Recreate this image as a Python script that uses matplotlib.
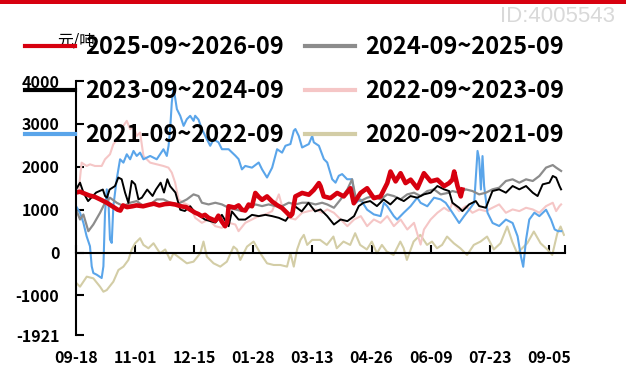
import matplotlib
matplotlib.use("Agg")
import matplotlib.pyplot as plt
from matplotlib.lines import Line2D
from matplotlib.patches import Rectangle

plt.rcParams['font.family'] = ['Noto Sans CJK SC', 'DejaVu Sans']

# days counted from 09-18 of each season
xtick_days = [0, 44, 88, 132, 176, 220, 264, 308, 352]
xtick_labels = ['09-18', '11-01', '12-15', '01-28', '03-13', '04-26', '06-09', '07-23', '09-05']
ytick_vals = [4000, 3000, 2000, 1000, 0, -1000, -1921]

s2025_days = [0, 3, 6, 10, 14, 18, 23, 28, 31, 33, 35, 38, 42, 45, 50, 55, 58, 62, 66, 70, 74, 78, 82, 85,
              88.7, 91, 93.7, 96, 98.7, 101, 103.7, 106, 108.6, 111, 112.5, 113.6, 118, 121, 123.5, 126,
              128.5, 131, 133.5, 136, 138.5, 142.2, 146, 150, 153.4, 156, 159.6, 161, 163.3, 168.3, 173.3,
              177, 180.8, 182, 184.4, 189.4, 194.4, 199.3, 204.3, 206.8, 211.8, 216.7, 221.7, 226.7, 231.7,
              234.1, 237.9, 241.6, 245.3, 249.1, 254.1, 259, 264, 269, 274, 277.7, 280.2, 281.5, 284, 286.4, 287.6]
s2025_vals = [1400, 1420, 1380, 1330, 1300, 1240, 1160, 1060, 1000, 980, 1100, 1060, 1080, 1100, 1080, 1120,
              1140, 1100, 1130, 1140, 1120, 1080, 1060, 1000, 930, 900, 850, 880, 810, 780, 740, 860, 720,
              615, 700, 1080, 1050, 1100, 1000, 980, 1120, 1080, 1390, 1300, 1230, 1310, 1190, 1100, 1040,
              960, 850, 900, 1310, 1390, 1350, 1460, 1620, 1550, 1310, 1270, 1390, 1310, 1500, 1150, 1390,
              1500, 1270, 1310, 1620, 1890, 1660, 1850, 1620, 1700, 1500, 1850, 1660, 1700, 1550, 1620, 1700,
              1890, 1550, 1310, 1470]

s2024_days = [0, 3, 5.5, 9.2, 12.9, 17.9, 21.6, 25.3, 30.3, 35.3, 40.3, 45.2, 50.2, 55.2, 60.1, 65.1, 70.1,
              75.1, 82.5, 87.5, 91.2, 93.7, 98.7, 103.7, 108.6, 113.6, 118.6, 123.5, 128.5, 133.5, 138.5,
              143.4, 148.4, 153.4, 158.4, 163.3, 168.3, 173.3, 178.3, 183.2, 187, 192, 197, 202, 205.5, 208,
              211.8, 216.7, 221.7, 226.7, 231.7, 236.6, 241.6, 246.6, 251.6, 256.5, 261.5, 266.5, 271.5,
              277.7, 280.2, 285.2, 290.1, 295.1, 300.1, 305.1, 310, 315, 320, 325, 330, 335, 340, 344.9,
              349.9, 354.9, 357.4, 361.1]
s2024_vals = [1006, 772, 889, 499, 655, 928, 1162, 1279, 1162, 1084, 1162, 1201, 1084, 1123, 1240, 1240, 1162,
              1123, 1240, 1357, 1318, 1162, 1123, 1162, 1123, 1045, 1006, 967, 1045, 1123, 1084, 1123, 1084,
              1084, 1162, 1123, 1162, 1162, 1123, 1162, 1123, 1045, 1240, 1474, 1708, 1318, 1201, 1279, 1318,
              1240, 1357, 1318, 1240, 1357, 1396, 1318, 1435, 1474, 1357, 1396, 1435, 1396, 1474, 1435, 1357,
              1396, 1474, 1513, 1669, 1708, 1630, 1708, 1669, 1786, 1981, 2040, 1981, 1903]

s2023_days = [0, 3, 5.5, 9, 15, 20, 21.6, 23, 25, 29, 31.5, 34, 36.5, 39, 41.5, 44, 46.5, 49, 53, 57, 59.5,
              63, 65.5, 68, 70, 74, 77.6, 81, 85, 88.7, 96, 103.7, 108.6, 113.6, 116, 121, 126, 131, 136,
              141, 146, 151, 156, 161, 163, 168, 173, 178, 182, 187, 192, 197, 202, 207, 210.5, 214, 219,
              224, 229, 234, 239, 244, 249, 254, 259, 264, 269, 274, 277.7, 280.2, 285.2, 287.6, 292.6,
              297.6, 300.1, 305.1, 310, 315, 320, 325, 330, 335, 340, 343.6, 347.4, 352.4, 354.9, 357.4,
              359.9, 361.1]
s2023_vals = [1470, 1630, 1400, 1200, 1400, 1470, 1320, 1280, 1470, 1550, 1750, 1710, 1400, 1160, 1670, 1590,
              1240, 1280, 1470, 1320, 1470, 1630, 1400, 1710, 1550, 1400, 1000, 970, 1080, 930, 770, 700, 880,
              615, 960, 770, 770, 880, 850, 880, 850, 810, 740, 960, 1080, 960, 1160, 960, 1006, 850, 655,
              772, 733, 850, 1084, 1162, 1201, 1084, 1240, 1123, 1279, 1201, 1318, 1279, 1357, 1396, 1552,
              1474, 1435, 1162, 1045, 967, 1123, 1201, 1084, 1045, 1435, 1474, 1396, 1552, 1474, 1552, 1396,
              1318, 1591, 1630, 1786, 1747, 1552, 1474]

s2022_days = [0, 2, 4.2, 7.9, 10.4, 14.1, 19.1, 21.6, 25.3, 27.8, 32.8, 35.3, 37.8, 40.3, 42.8, 45.2, 47.7,
              50.2, 55.2, 60.1, 65.1, 68.8, 71.3, 73.8, 76.3, 80.1, 85, 88.7, 93.7, 98.7, 103.7, 108.6,
              113.6, 118.6, 121, 126, 131, 136, 141, 146, 151, 153.4, 158.4, 163.3, 168.3, 173.3, 178.3,
              183.2, 187, 192, 197, 202, 207, 212, 216.7, 221.7, 226.7, 231.7, 236.6, 241.6, 246.6, 251.6,
              256.5, 259, 264, 269, 274, 277.7, 280.2, 285.2, 290.1, 295.1, 300.1, 305.1, 310, 315, 320,
              325, 330, 335, 340, 344.9, 349.9, 354.9, 357.4, 359.9, 361.1]
s2022_vals = [1400, 1450, 2097, 2019, 2058, 2019, 2019, 2175, 2292, 2526, 2721, 2955, 3071, 2877, 2955, 2721,
              2799, 2253, 2097, 2058, 2019, 1980, 1864, 1630, 1240, 1162, 1084, 811, 694, 772, 616, 577, 694,
              655, 499, 694, 772, 850, 889, 967, 1357, 1084, 811, 772, 928, 967, 1006, 928, 1006, 928, 772,
              616, 772, 850, 616, 772, 694, 850, 616, 772, 538, 694, 187, 538, 772, 928, 1045, 967, 1162, 967,
              1084, 928, 1006, 967, 1045, 1123, 928, 1006, 967, 1045, 1006, 928, 1084, 1162, 967, 1084, 1123]

s2021_days = [0, 3, 5.5, 7.9, 10.4, 11.7, 12.9, 15.4, 19.1, 20.4, 21.6, 22.9, 24.1, 25.3, 26.6, 27.8, 30.3,
              32.8, 35.3, 37.8, 40.3, 42.8, 45.2, 47.7, 50.2, 55.2, 60.1, 62.6, 65.1, 67.6, 68.9, 70.1,
              71.3, 72.6, 75.1, 77.6, 80.1, 82.5, 85, 87.5, 88.7, 91.2, 93.7, 96.2, 99.9, 102.4, 106.1,
              108.6, 113.6, 118.6, 121, 123.5, 126, 131, 136, 138.5, 142.2, 146, 149.7, 153.4, 155.9,
              159.6, 162.1, 163.3, 165.8, 168.3, 173.3, 175.8, 177, 180.8, 184.5, 187, 190.7, 193.2, 195.6,
              198.1, 201.8, 205.5, 208, 211.8, 216.7, 221.7, 226.7, 229.2, 231.7, 236.6, 239, 244, 249, 254,
              256.5, 261.5, 266.5, 271.5, 275.2, 280.2, 285.2, 288.9, 292.6, 296.4, 298.9, 300.1, 301.4,
              302.6, 303.8, 306.3, 310.1, 315, 320, 325, 328.7, 331.2, 332.9, 335, 337.4, 341.2, 344.9,
              349.9, 353.6, 356.3, 358.8, 361.3]
s2021_vals = [1084, 928, 694, 382, 148, -320, -476, -515, -593, -320, 928, 1474, 1240, 304, 226, 1084, 1708,
              2175, 2097, 2292, 2175, 2370, 2253, 2330, 2175, 2253, 2175, 2292, 2409, 2253, 2487, 2877, 3500,
              3850, 3344, 3188, 2954, 3110, 3188, 3071, 3190, 3100, 2880, 2720, 2490, 2640, 2570, 2410, 2410,
              2260, 2180, 1940, 2020, 1980, 2100, 1940, 1750, 1980, 2410, 2330, 2490, 2530, 2840, 2880, 2720,
              2450, 2530, 2720, 2570, 2490, 2180, 2100, 1710, 1630, 1790, 1830, 1710, 1710, 1160, 1240, 1000,
              890, 850, 1160, 1080, 850, 770, 930, 1080, 1280, 1160, 1080, 1280, 1240, 1160, 930, 690, 850,
              1000, 1160, 2370, 2180, 1470, 2250, 1550, 930, 690, 620, 770, 690, 380, -90, -330, 300, 770,
              930, 850, 1000, 770, 540, 500, 500]

s2020_days = [0.5, 3, 8, 12.9, 17.9, 20.4, 22.9, 27.8, 31.6, 35.3, 39, 41.5, 44, 47.7, 50.2, 53.9, 57.7,
              60.1, 62.6, 66.4, 70.1, 72.6, 77.6, 82.5, 87.5, 92.5, 94.9, 97.4, 102.4, 107.4, 112.3, 117.3,
              119.8, 122.3, 127.3, 132.2, 137.2, 142.2, 147.2, 152.1, 157.1, 159.6, 162.1, 164.6, 167.1,
              169.6, 172.1, 175.8, 181.7, 186.7, 191.6, 194.1, 199.1, 204.1, 207.8, 211.5, 216.5, 220.2,
              224, 227.7, 231.4, 236.4, 241.4, 243.9, 246.3, 251.3, 256.3, 261.3, 265, 268.7, 272.5, 276.2,
              281.2, 286.1, 291.1, 296.1, 301.1, 306, 311, 316, 321, 324.7, 328.4, 332.1, 335.9, 340.8,
              345.8, 350.8, 354.5, 358.3, 360.7, 363.2]
s2020_vals = [-717, -795, -561, -600, -795, -912, -873, -678, -405, -327, -171, 73, 218, 335, 179, 101, 218,
              101, -16, 73, -171, -16, -133, -250, -211, -16, 257, -94, -250, -327, -211, 140, 73, -171, 140,
              257, -16, -250, -289, -289, -327, -16, -327, 73, 296, 413, 179, 296, 296, 179, 374, 101, 257,
              179, 452, 179, 73, 257, -16, 179, 23, -55, 257, 101, -171, 257, 413, 179, 257, 101, 179, 374,
              218, 101, -55, 179, 257, 374, 73, 218, 608, 257, -16, 101, 218, 491, 218, 73, -55, 452, 608, 413]

fig = plt.figure(figsize=(6.26, 3.74), dpi=100)
ax = fig.add_axes([76 / 626, 1 - 335 / 374, 489 / 626, 254 / 374])

ax.plot(s2020_days, s2020_vals, color='#d3cda6', lw=1.5)
ax.plot(s2022_days, s2022_vals, color='#f5c6c6', lw=1.5)
ax.plot(s2021_days, s2021_vals, color='#5aa5ea', lw=1.5)
ax.plot(s2024_days, s2024_vals, color='#8c8c8c', lw=1.6)
ax.plot(s2023_days, s2023_vals, color='black', lw=1.4)
ax.plot(s2025_days, s2025_vals, color='#d7000f', lw=3.3)

ax.set_xlim(0, 364)
ax.set_ylim(-1921, 4000)

for side in ['top', 'right']:
    ax.spines[side].set_visible(False)
ax.spines['left'].set_linewidth(1.5)
ax.spines['bottom'].set_linewidth(1.5)
ax.spines['bottom'].set_position(('data', 0))

ax.set_yticks(ytick_vals)
ax.set_yticklabels([str(v) for v in ytick_vals], fontsize=11.5, fontweight='bold')
ax.tick_params(axis='y', direction='in', length=6, width=1.5, pad=12)
ax.set_xticks(xtick_days + [364])
ax.tick_params(axis='x', direction='in', length=6, width=1.5, labelbottom=False)

sec = ax.secondary_xaxis('bottom')
sec.set_xticks(xtick_days)
sec.set_xticklabels(xtick_labels, fontsize=11.5, fontweight='bold')
sec.tick_params(length=0, pad=11)
sec.spines['bottom'].set_visible(False)

handles = [
    Line2D([], [], color='#d7000f', lw=3),
    Line2D([], [], color='black', lw=3),
    Line2D([], [], color='#5aa5ea', lw=3),
    Line2D([], [], color='#8c8c8c', lw=3),
    Line2D([], [], color='#f5c6c6', lw=3),
    Line2D([], [], color='#d3cda6', lw=3),
]
labels = ['2025-09~2026-09', '2023-09~2024-09', '2021-09~2022-09',
          '2024-09~2025-09', '2022-09~2023-09', '2020-09~2021-09']
fig.legend(handles, labels, ncol=2, loc='upper left', bbox_to_anchor=(25 / 626, 1 - 35 / 374),
           frameon=False, prop={'size': 17, 'weight': 'bold'}, handlelength=2.1,
           handletextpad=0.45, columnspacing=0.9, labelspacing=0.85, borderpad=0, borderaxespad=0)

fig.text(76 / 626, 1 - 41 / 374, '元/吨', fontsize=11.5, ha='center', va='center')
fig.text(615 / 626, 1 - 17 / 374, 'ID:4005543', fontsize=16, color='#d9d9d9',
         family='Liberation Sans', ha='right', va='center')
fig.add_artist(Rectangle((0, 1 - 4 / 374), 1, 4 / 374, transform=fig.transFigure,
                         color='#d7000f', lw=0))

fig.savefig('out.png', dpi=100)
